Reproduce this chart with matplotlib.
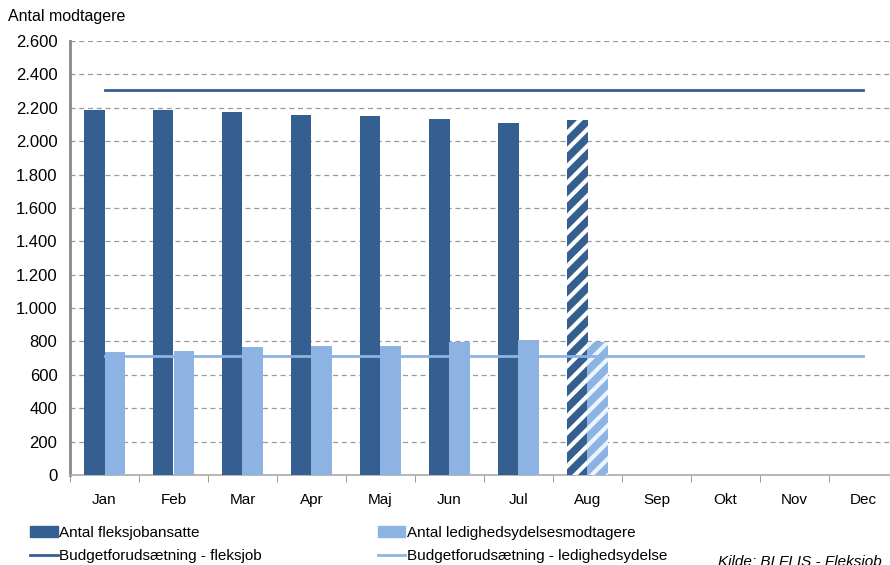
import matplotlib
matplotlib.use("Agg")
import matplotlib.pyplot as plt
from matplotlib.patches import Patch
from matplotlib.lines import Line2D
from matplotlib.ticker import FuncFormatter, MultipleLocator
import numpy as np

plt.rcParams['font.family'] = ['Liberation Sans', 'DejaVu Sans']
plt.rcParams['hatch.linewidth'] = 3.0

months = ["Jan", "Feb", "Mar", "Apr", "Maj", "Jun", "Jul", "Aug", "Sep", "Okt", "Nov", "Dec"]
fleksjob = [2184, 2188, 2174, 2158, 2152, 2134, 2110, 2125]
ledighed = [736, 740, 768, 770, 772, 794, 806, 798]
budget_fleksjob = [2305] * 12
budget_ledighed = [714] * 12
projected_from = 7  # index of first projected (hatched) month

dark = "#355F91"
light = "#8DB3E2"

fig = plt.figure(figsize=(8.9, 5.65), dpi=100)
ax = fig.add_axes([70/890, 1-475/565, 828/890, (475-41)/565])

x = np.arange(len(months))
n = len(fleksjob)
bw = 0.29
for i in range(n):
    hatched = i >= projected_from
    ax.bar(x[i] - bw/2, fleksjob[i], width=bw, color=dark,
           edgecolor="white" if hatched else dark, linewidth=0,
           hatch="//" if hatched else None, zorder=3)
    ax.bar(x[i] + bw/2, ledighed[i], width=bw, color=light,
           edgecolor="#EAF6FF" if hatched else light, linewidth=0,
           hatch="//" if hatched else None, zorder=3)

ax.plot(x, budget_fleksjob, color=dark, lw=2, zorder=4)
ax.plot(x, budget_ledighed, color=light, lw=2, zorder=4)

ax.set_xlim(-0.5, 11.5)
ax.set_ylim(0, 2600)
ax.yaxis.set_major_locator(MultipleLocator(200))
ax.yaxis.set_major_formatter(FuncFormatter(lambda v, p: f"{int(v):,}".replace(",", ".")))
ax.set_xticks(x)
ax.set_xticklabels(months)
ax.set_xticks(np.arange(-0.5, 12, 1), minor=True)
ax.tick_params(axis='x', which='major', length=0, pad=13, labelsize=11)
ax.tick_params(axis='x', which='minor', length=5, color="#888888", direction='out')
ax.tick_params(axis='y', length=0, labelsize=12, pad=9)

ax.grid(axis='y', linestyle=(0, (4, 3)), color="#999999", lw=0.9, zorder=0)
for s in ['top', 'right']:
    ax.spines[s].set_visible(False)
ax.spines['left'].set_color("#888888")
ax.spines['left'].set_linewidth(2)
ax.spines['bottom'].set_color("#AAAAAA")
ax.spines['bottom'].set_linewidth(1.2)

fig.text(8/890, 1-17/565, "Antal modtagere", fontsize=11.5, va='center', ha='left')

handles = [Patch(color=dark), Patch(color=light),
           Line2D([0], [0], color=dark, lw=2), Line2D([0], [0], color=light, lw=2)]
labels = ["Antal fleksjobansatte", "Antal ledighedsydelsesmodtagere",
          "Budgetforudsætning - fleksjob", "Budgetforudsætning - ledighedsydelse"]
# order for 2-column layout (column-major fill)
order = [0, 2, 1, 3]
fig.legend([handles[i] for i in order], [labels[i] for i in order], ncol=2,
           loc='upper left', bbox_to_anchor=(24/890, 1-520/565), frameon=False,
           fontsize=11, handlelength=1.8, handletextpad=0.1, columnspacing=7.6,
           labelspacing=0.6, borderaxespad=0)

fig.text(718/890, 1-562/565, "Kilde: BI FLIS - Fleksjob", fontsize=11,
         style='italic', va='center', ha='left')

fig.savefig("out.png", dpi=100)
